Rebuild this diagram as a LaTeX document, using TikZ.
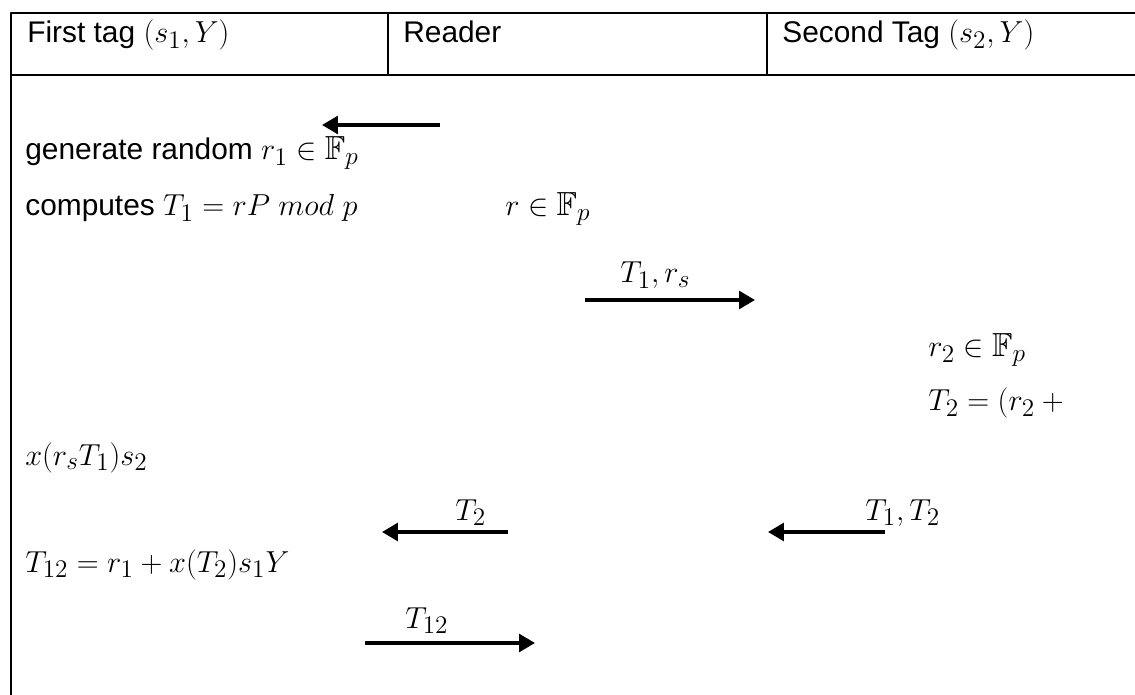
\documentclass[tikz,border=0pt]{standalone}
\usepackage{amsmath,amssymb}
\usepackage{fontspec}
\setmainfont{Liberation Sans}
\DeclareMathSizes{17}{19}{14}{11}
\usetikzlibrary{arrows.meta}

\begin{document}
\begin{tikzpicture}[x=0.02cm,y=-0.02cm,line join=round,
  every node/.style={font=\fontsize{17}{20}\selectfont, inner sep=0pt, anchor=base west},
  msg/.style={line width=2pt,-{Triangle[length=9pt,width=10pt]}},
  rule/.style={line width=1.2pt}]
\useasboundingbox (0,0) rectangle (1135,695);
% table frame
\draw[rule] (11,695) -- (11,13) -- (1135,13);
\draw[rule] (11,75) -- (1135,75);
\draw[rule] (388,13) -- (388,75);
\draw[rule] (767,13) -- (767,75);
% header
\node (tag1) at (27,43) {First tag $(s_1,Y)$};
\node (reader) at (403,43) {Reader};
\node (tag2) at (782,43) {Second Tag $(s_2,Y)$};
% first tag and reader
\node (gen) at (25,160) {generate random $r_1 \in \mathbb{F}_p$};
\node (comp) at (25,216) {computes $T_1 = rP\;mod\;p$};
\node (rsel) at (505,216) {$r \in \mathbb{F}_p$};
% second tag
\node (r2) at (928,357) {$r_2 \in \mathbb{F}_p$};
\node (t2a) at (928,411) {$T_2 = (r_2 +{}$};
\node (t2b) at (25,465) {$x(r_sT_1)s_2$};
\node (t12) at (25,572) {$T_{12} = r_1 + x(T_2)s_1Y$};
% message labels
\node (m1) at (620,283) {$T_1, r_s$};
\node (m2) at (455,520) {$T_2$};
\node (m3) at (865,520) {$T_1, T_2$};
\node (m4) at (405,628) {$T_{12}$};
% arrow ends
\coordinate (a0s) at (440,125);
\coordinate (a0e) at (322,125);
\coordinate (a1s) at (585,300);
\coordinate (a1e) at (755,300);
\coordinate (a2s) at (508,532);
\coordinate (a2e) at (382,532);
\coordinate (a3s) at (885,532);
\coordinate (a3e) at (768,532);
\coordinate (a4s) at (365,643);
\coordinate (a4e) at (535,643);
\draw[msg] (a0s) -- (a0e);
\draw[msg] (a1s) -- (a1e);
\draw[msg] (a2s) -- (a2e);
\draw[msg] (a3s) -- (a3e);
\draw[msg] (a4s) -- (a4e);
\end{tikzpicture}
\end{document}
